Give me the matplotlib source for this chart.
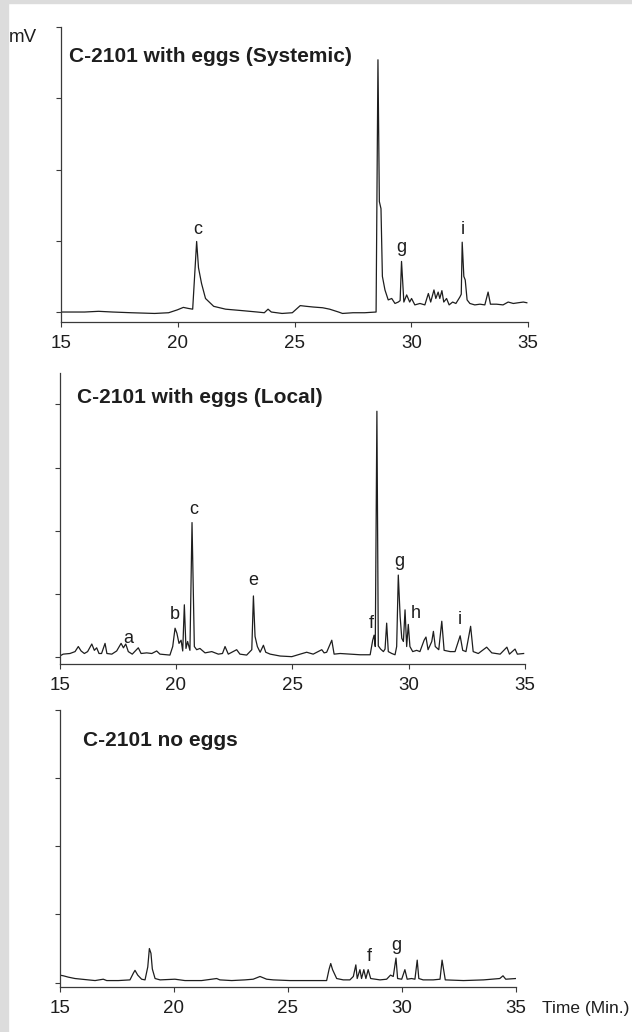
import matplotlib
matplotlib.use("Agg")
import matplotlib.pyplot as plt
from matplotlib.patches import Rectangle

plt.rcParams['font.family'] = ['Liberation Sans', 'DejaVu Sans']

# --- C-2101 with eggs (Systemic) ---
t_sys = [15.0, 16.0, 16.6, 17.2, 18.0, 19.0, 19.6, 19.97, 20.23, 20.45, 20.63,
         20.80, 20.88, 21.01, 21.18, 21.53, 22.04, 22.74, 23.4, 23.7, 23.86,
         24.0, 24.46, 24.9, 25.24, 25.5, 25.8, 26.2, 26.5, 26.88, 27.05, 27.5,
         28.0, 28.49, 28.57, 28.63, 28.70, 28.76, 28.87, 29.01, 29.16, 29.3,
         29.44, 29.52, 29.58, 29.68, 29.8, 29.93, 30.01, 30.15, 30.37, 30.58,
         30.73, 30.83, 30.97, 31.05, 31.15, 31.22, 31.31, 31.39, 31.51, 31.62,
         31.77, 31.91, 32.08, 32.14, 32.18, 32.25, 32.31, 32.39, 32.51, 32.72,
         32.94, 33.15, 33.29, 33.39, 33.65, 33.93, 34.15, 34.37, 34.58, 34.8,
         34.95]
s_sys = [0.0, 0.0, 0.01, 0.0, -0.01, -0.02, -0.01, 0.03, 0.065, 0.05, 0.04,
         0.99, 0.62, 0.40, 0.19, 0.08, 0.04, 0.02, 0.0, -0.01, 0.04,
         0.0, -0.02, -0.01, 0.09, 0.08, 0.07, 0.06, 0.04, 0.0, -0.02, -0.01,
         -0.01, 0.0, 3.54, 1.55, 1.45, 0.50, 0.31, 0.17, 0.19, 0.12,
         0.14, 0.16, 0.71, 0.14, 0.24, 0.14, 0.19, 0.10, 0.12, 0.10,
         0.26, 0.14, 0.31, 0.19, 0.28, 0.19, 0.30, 0.14, 0.19, 0.10,
         0.14, 0.12, 0.21, 0.25, 0.98, 0.50, 0.45, 0.17, 0.12, 0.10,
         0.11, 0.10, 0.28, 0.11, 0.11, 0.10, 0.14, 0.12, 0.13, 0.14,
         0.13]
lab_sys = ["c", "g", "i"]
lab_sys_t = [20.84, 29.59, 32.2]
lab_sys_y = [1.16, 0.90, 1.16]

# --- C-2101 with eggs (Local) ---
t_loc = [15.0, 15.15, 15.44, 15.66, 15.8, 15.92, 16.06, 16.2, 16.38, 16.49,
         16.59, 16.69, 16.8, 16.95, 17.03, 17.24, 17.45, 17.64, 17.74, 17.84,
         17.95, 18.12, 18.38, 18.5, 18.74, 18.96, 19.17, 19.31, 19.74, 19.86,
         19.96, 20.04, 20.13, 20.22, 20.29, 20.36, 20.43, 20.5, 20.6, 20.69,
         20.79, 20.89, 21.03, 21.25, 21.54, 21.82, 22.0, 22.11, 22.25, 22.61,
         22.75, 23.04, 23.26, 23.33, 23.4, 23.5, 23.62, 23.76, 23.86, 24.05,
         24.48, 24.98, 25.34, 25.62, 25.9, 26.27, 26.37, 26.48, 26.7, 26.8,
         27.06, 27.49, 27.92, 28.35, 28.46, 28.52, 28.57, 28.64, 28.7, 28.8,
         28.92, 28.99, 29.06, 29.13, 29.28, 29.42, 29.49, 29.56, 29.64, 29.71,
         29.78, 29.85, 29.92, 29.99, 30.06, 30.18, 30.35, 30.49, 30.67, 30.75,
         30.84, 31.0, 31.07, 31.15, 31.3, 31.43, 31.53, 31.79, 32.0, 32.22,
         32.33, 32.47, 32.67, 32.78, 33.0, 33.36, 33.58, 33.94, 34.23, 34.34,
         34.58, 34.68, 34.95]
s_loc = [0.02, 0.05, 0.06, 0.09, 0.17, 0.10, 0.06, 0.09, 0.21, 0.11,
         0.15, 0.06, 0.06, 0.22, 0.06, 0.05, 0.10, 0.22, 0.15, 0.21,
         0.09, 0.05, 0.15, 0.06, 0.07, 0.06, 0.10, 0.05, 0.035, 0.17,
         0.46, 0.38, 0.22, 0.27, 0.10, 0.83, 0.14, 0.25, 0.11, 2.13,
         0.17, 0.12, 0.14, 0.07, 0.09, 0.05, 0.06, 0.17, 0.05, 0.12,
         0.05, 0.035, 0.12, 0.97, 0.33, 0.17, 0.08, 0.19, 0.08, 0.05,
         0.02, 0.01, 0.05, 0.08, 0.05, 0.12, 0.07, 0.08, 0.27, 0.05,
         0.06, 0.05, 0.04, 0.04, 0.27, 0.35, 0.17, 3.89, 0.18, 0.13,
         0.09, 0.13, 0.54, 0.09, 0.06, 0.04, 0.17, 1.30, 0.64, 0.30,
         0.25, 0.75, 0.17, 0.52, 0.17, 0.09, 0.11, 0.09, 0.27, 0.32,
         0.12, 0.25, 0.41, 0.17, 0.12, 0.57, 0.11, 0.09, 0.09, 0.34,
         0.11, 0.09, 0.49, 0.09, 0.06, 0.16, 0.07, 0.05, 0.16, 0.05,
         0.13, 0.05, 0.06]
lab_loc = ["a", "b", "c", "e", "f", "g", "h", "i"]
lab_loc_t = [17.94, 19.94, 20.75, 23.32, 28.38, 29.59, 30.29, 32.2]
lab_loc_y = [0.30, 0.68, 2.33, 1.21, 0.54, 1.51, 0.70, 0.59]

# --- C-2101 no eggs ---
t_no = [15.0, 15.16, 15.38, 15.67, 15.96, 16.25, 16.55, 16.91, 17.06, 17.57,
        18.08, 18.23, 18.3, 18.42, 18.59, 18.74, 18.86, 18.93, 19.0, 19.06,
        19.18, 19.4, 20.05, 20.49, 21.22, 21.66, 21.88, 22.02, 22.54, 23.12,
        23.48, 23.78, 24.07, 24.36, 25.09, 25.67, 26.7, 26.81, 26.88, 26.96,
        27.14, 27.43, 27.72, 27.87, 27.98, 28.04, 28.16, 28.23, 28.33, 28.42,
        28.52, 28.63, 29.04, 29.33, 29.5, 29.62, 29.74, 29.81, 29.99, 30.13,
        30.23, 30.42, 30.57, 30.67, 30.74, 30.93, 31.37, 31.67, 31.76, 31.9,
        32.7, 33.58, 34.29, 34.43, 34.55, 35.0]
s_no = [0.11, 0.10, 0.08, 0.06, 0.05, 0.04, 0.03, 0.05, 0.03, 0.03,
        0.04, 0.14, 0.18, 0.11, 0.05, 0.04, 0.23, 0.50, 0.43, 0.20,
        0.06, 0.04, 0.05, 0.03, 0.03, 0.05, 0.06, 0.04, 0.03, 0.04,
        0.05, 0.09, 0.05, 0.04, 0.03, 0.03, 0.03, 0.20, 0.28, 0.19,
        0.06, 0.04, 0.04, 0.09, 0.26, 0.06, 0.19, 0.06, 0.19, 0.06,
        0.19, 0.06, 0.04, 0.05, 0.11, 0.09, 0.36, 0.06, 0.05, 0.19,
        0.05, 0.06, 0.05, 0.33, 0.06, 0.04, 0.04, 0.05, 0.33, 0.04,
        0.03, 0.04, 0.06, 0.10, 0.05, 0.06]
lab_no = ["f", "g"]
lab_no_t = [28.55, 29.75]
lab_no_y = [0.38, 0.55]

titles = ["C-2101 with eggs (Systemic)", "C-2101 with eggs (Local)", "C-2101 no eggs"]
xticks = [15, 20, 25, 30, 35]

W, H = 632, 1032
fig = plt.figure(figsize=(W / 100, H / 100), dpi=100)
fig.patch.set_facecolor("white")
# grey frame of the scanned figure
fig.patches.append(Rectangle((0, 0), 8 / W, 1, transform=fig.transFigure,
                             color="#dcdcdc", zorder=0))
fig.patches.append(Rectangle((0, 1 - 3 / H), 1, 3 / H, transform=fig.transFigure,
                             color="#dcdcdc", zorder=0))

# axes boxes in pixels: left, right(x=35), bottom(x-axis), top
boxes = [(61.3, 528.0, 322.0, 27.0),
         (59.7, 524.8, 664.0, 373.3),
         (59.7, 516.0, 986.7, 710.0)]
ylims = [(-0.14, 4.0), (-0.106, 4.49), (-0.06, 4.0)]
title_pos = [(69, 56), (76.6, 397.3), (83.4, 740)]

panels = [(t_sys, s_sys, lab_sys, lab_sys_t, lab_sys_y),
          (t_loc, s_loc, lab_loc, lab_loc_t, lab_loc_y),
          (t_no, s_no, lab_no, lab_no_t, lab_no_y)]

ink = "#1e1e1e"
for i, (t, s, labs, lt, ly) in enumerate(panels):
    l, r, b, tp = boxes[i]
    ax = fig.add_axes([l / W, 1 - b / H, (r - l) / W, (b - tp) / H])
    ax.plot(t, s, color=ink, lw=0.9)
    ax.set_xlim(15, 35)
    ax.set_ylim(*ylims[i])
    ax.set_xticks(xticks)
    ax.set_yticks([0, 1, 2, 3, 4])
    ax.set_yticklabels([])
    ax.spines["top"].set_visible(False)
    ax.spines["right"].set_visible(False)
    for sp in ("left", "bottom"):
        ax.spines[sp].set_color("#3a3a3a")
        ax.spines[sp].set_linewidth(0.9)
    ax.tick_params(direction="out", length=3.5, width=0.8, color="#3a3a3a",
                   labelsize=13.5, labelcolor=ink, pad=6)
    ax.patch.set_alpha(0)
    for lab, x, y in zip(labs, lt, ly):
        ax.text(x, y, lab, ha="center", va="center", fontsize=13, color=ink)
    tx, ty = title_pos[i]
    fig.text(tx / W, 1 - ty / H, titles[i], ha="left", va="center",
             fontsize=15, fontweight="bold", color=ink)

fig.text(9 / W, 1 - 38 / H, "mV", ha="left", va="center", fontsize=13.5, color=ink)
fig.text(542 / W, 1 - 1008 / H, "Time (Min.)", ha="left", va="center",
         fontsize=12.5, color=ink)

fig.savefig("out.png", dpi=100)
